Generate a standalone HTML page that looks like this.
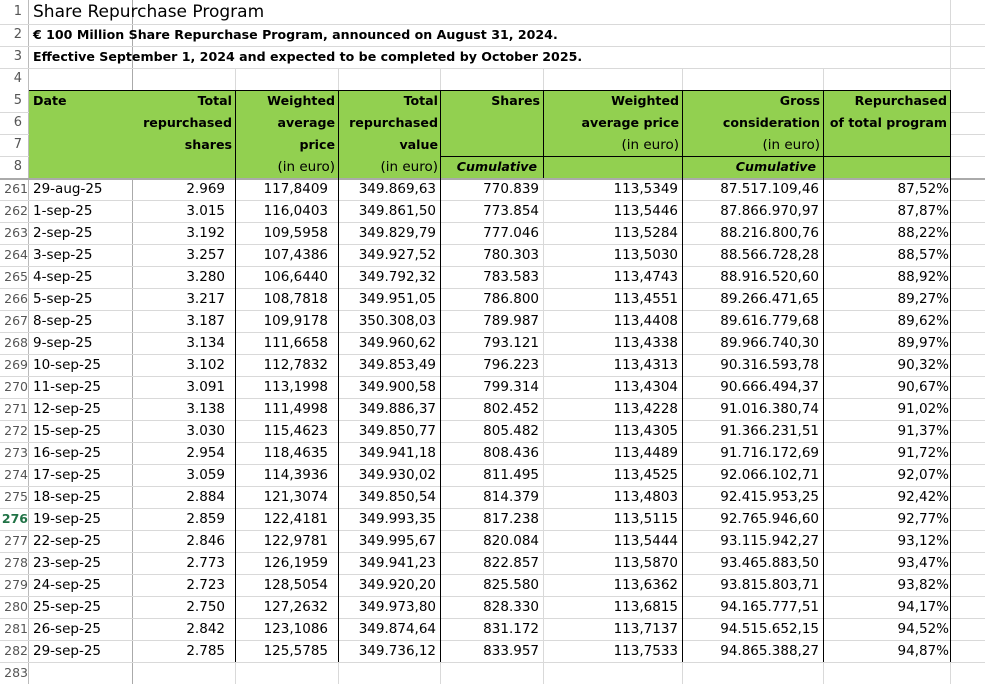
<!DOCTYPE html>
<html><head><meta charset="utf-8"><style>
*{margin:0;padding:0;box-sizing:border-box}
body{width:985px;height:684px;overflow:hidden;background:#fff;font-family:"DejaVu Sans","Liberation Sans",sans-serif;font-size:13.5px;color:#000;position:relative}
.gl{position:absolute;background:#d9d9d9}
.bl{position:absolute;background:#000}
.t{position:absolute;white-space:nowrap;line-height:22px;height:22px}
.r{text-align:right}
.rn{position:absolute;left:0;width:22px;text-align:right;color:#555;line-height:22px;font-size:13px}
.b{font-weight:bold;font-size:12.6px}
</style></head><body>
<!-- gridlines -->
<div class="gl" style="left:28px;top:0;width:1px;height:684px;background:#bbb"></div>
<div class="gl" style="left:132px;top:0;width:1px;height:684px;background:#aaa"></div>
<div class="gl" style="left:235px;top:68px;width:1px;height:616px"></div>
<div class="gl" style="left:338px;top:68px;width:1px;height:616px"></div>
<div class="gl" style="left:440px;top:68px;width:1px;height:616px"></div>
<div class="gl" style="left:543px;top:68px;width:1px;height:616px"></div>
<div class="gl" style="left:682px;top:68px;width:1px;height:616px"></div>
<div class="gl" style="left:823px;top:68px;width:1px;height:616px"></div>
<div class="gl" style="left:950px;top:0;width:1px;height:684px"></div>
<div class="gl" style="left:0;top:24px;width:985px;height:1px"></div>
<div class="gl" style="left:0;top:46px;width:985px;height:1px"></div>
<div class="gl" style="left:0;top:68px;width:985px;height:1px"></div>
<div class="gl" style="left:0;top:112px;width:985px;height:1px"></div>
<div class="gl" style="left:0;top:134px;width:985px;height:1px"></div>
<div class="gl" style="left:0;top:156px;width:985px;height:1px"></div>
<div class="gl" style="left:0;top:178px;width:985px;height:2px;background:#aaa"></div>
<div class="gl" style="left:0;top:200px;width:985px;height:1px"></div>
<div class="gl" style="left:0;top:222px;width:985px;height:1px"></div>
<div class="gl" style="left:0;top:244px;width:985px;height:1px"></div>
<div class="gl" style="left:0;top:266px;width:985px;height:1px"></div>
<div class="gl" style="left:0;top:288px;width:985px;height:1px"></div>
<div class="gl" style="left:0;top:310px;width:985px;height:1px"></div>
<div class="gl" style="left:0;top:332px;width:985px;height:1px"></div>
<div class="gl" style="left:0;top:354px;width:985px;height:1px"></div>
<div class="gl" style="left:0;top:376px;width:985px;height:1px"></div>
<div class="gl" style="left:0;top:398px;width:985px;height:1px"></div>
<div class="gl" style="left:0;top:420px;width:985px;height:1px"></div>
<div class="gl" style="left:0;top:442px;width:985px;height:1px"></div>
<div class="gl" style="left:0;top:464px;width:985px;height:1px"></div>
<div class="gl" style="left:0;top:486px;width:985px;height:1px"></div>
<div class="gl" style="left:0;top:508px;width:985px;height:1px"></div>
<div class="gl" style="left:0;top:530px;width:985px;height:1px"></div>
<div class="gl" style="left:0;top:552px;width:985px;height:1px"></div>
<div class="gl" style="left:0;top:574px;width:985px;height:1px"></div>
<div class="gl" style="left:0;top:596px;width:985px;height:1px"></div>
<div class="gl" style="left:0;top:618px;width:985px;height:1px"></div>
<div class="gl" style="left:0;top:640px;width:985px;height:1px"></div>
<div class="gl" style="left:0;top:662px;width:985px;height:1px"></div>
<!-- green header -->
<div style="position:absolute;left:29px;top:90px;width:921px;height:88px;background:#92d050"></div>
<!-- black borders -->
<div class="bl" style="left:29px;top:90px;width:922px;height:1px"></div>
<div class="bl" style="left:440px;top:156px;width:511px;height:1px"></div>
<div class="bl" style="left:235px;top:90px;width:1px;height:572px"></div>
<div class="bl" style="left:338px;top:90px;width:1px;height:572px"></div>
<div class="bl" style="left:440px;top:90px;width:1px;height:572px"></div>
<div class="bl" style="left:543px;top:90px;width:1px;height:88px"></div>
<div class="bl" style="left:682px;top:90px;width:1px;height:572px"></div>
<div class="bl" style="left:823px;top:90px;width:1px;height:572px"></div>
<div class="bl" style="left:950px;top:90px;width:1px;height:572px"></div>

<!-- row numbers -->
<div class="rn" style="top:1px">1</div>
<div class="rn" style="top:24px">2</div>
<div class="rn" style="top:46px">3</div>
<div class="rn" style="top:68px">4</div>
<div class="rn" style="top:90px">5</div>
<div class="rn" style="top:112px">6</div>
<div class="rn" style="top:134px">7</div>
<div class="rn" style="top:156px">8</div>

<div class="t" style="left:33px;top:0;font-size:17px;line-height:24px">Share Repurchase Program</div>
<div class="t b" style="left:33px;top:24px">€ 100 Million Share Repurchase Program, announced on August 31, 2024.</div>
<div class="t b" style="left:33px;top:46px">Effective September 1, 2024 and expected to be completed by October 2025.</div>

<div class="b">
<div class="t" style="left:33px;top:90px">Date</div>
<div class="t r" style="left:132px;width:100px;top:90px">Total</div>
<div class="t r" style="left:132px;width:100px;top:112px">repurchased</div>
<div class="t r" style="left:132px;width:100px;top:134px">shares</div>
<div class="t r" style="left:235px;width:100px;top:90px">Weighted</div>
<div class="t r" style="left:235px;width:100px;top:112px">average</div>
<div class="t r" style="left:235px;width:100px;top:134px">price</div>
<div class="t r" style="left:338px;width:100px;top:90px">Total</div>
<div class="t r" style="left:338px;width:100px;top:112px">repurchased</div>
<div class="t r" style="left:338px;width:100px;top:134px">value</div>
<div class="t r" style="left:440px;width:100px;top:90px">Shares</div>
<div class="t r" style="left:543px;width:136px;top:90px">Weighted</div>
<div class="t r" style="left:543px;width:136px;top:112px">average price</div>
<div class="t r" style="left:682px;width:138px;top:90px">Gross</div>
<div class="t r" style="left:682px;width:138px;top:112px">consideration</div>
<div class="t r" style="left:823px;width:124px;top:90px">Repurchased</div>
<div class="t r" style="left:823px;width:124px;top:112px">of total program</div>
<div class="t r" style="left:440px;width:97px;top:156px;font-style:italic">Cumulative</div>
<div class="t r" style="left:682px;width:134px;top:156px;font-style:italic">Cumulative</div>
</div>
<div class="t r" style="left:235px;width:100px;top:156px">(in euro)</div>
<div class="t r" style="left:338px;width:100px;top:156px">(in euro)</div>
<div class="t r" style="left:543px;width:136px;top:134px">(in euro)</div>
<div class="t r" style="left:682px;width:138px;top:134px">(in euro)</div>

<div style="position:absolute;left:0;top:178px;width:985px">
<table style="border-collapse:collapse;table-layout:fixed;font-size:13.5px" cellspacing="0">
<colgroup><col style="width:29px"><col style="width:103px"><col style="width:103px"><col style="width:103px"><col style="width:102px"><col style="width:103px"><col style="width:139px"><col style="width:141px"><col style="width:128px"></colgroup>
<tbody id="tb">
<tr><td>261</td><td>29-aug-25</td><td>2.969</td><td>117,8409</td><td>349.869,63</td><td>770.839</td><td>113,5349</td><td>87.517.109,46</td><td>87,52%</td></tr>
<tr><td>262</td><td>1-sep-25</td><td>3.015</td><td>116,0403</td><td>349.861,50</td><td>773.854</td><td>113,5446</td><td>87.866.970,97</td><td>87,87%</td></tr>
<tr><td>263</td><td>2-sep-25</td><td>3.192</td><td>109,5958</td><td>349.829,79</td><td>777.046</td><td>113,5284</td><td>88.216.800,76</td><td>88,22%</td></tr>
<tr><td>264</td><td>3-sep-25</td><td>3.257</td><td>107,4386</td><td>349.927,52</td><td>780.303</td><td>113,5030</td><td>88.566.728,28</td><td>88,57%</td></tr>
<tr><td>265</td><td>4-sep-25</td><td>3.280</td><td>106,6440</td><td>349.792,32</td><td>783.583</td><td>113,4743</td><td>88.916.520,60</td><td>88,92%</td></tr>
<tr><td>266</td><td>5-sep-25</td><td>3.217</td><td>108,7818</td><td>349.951,05</td><td>786.800</td><td>113,4551</td><td>89.266.471,65</td><td>89,27%</td></tr>
<tr><td>267</td><td>8-sep-25</td><td>3.187</td><td>109,9178</td><td>350.308,03</td><td>789.987</td><td>113,4408</td><td>89.616.779,68</td><td>89,62%</td></tr>
<tr><td>268</td><td>9-sep-25</td><td>3.134</td><td>111,6658</td><td>349.960,62</td><td>793.121</td><td>113,4338</td><td>89.966.740,30</td><td>89,97%</td></tr>
<tr><td>269</td><td>10-sep-25</td><td>3.102</td><td>112,7832</td><td>349.853,49</td><td>796.223</td><td>113,4313</td><td>90.316.593,78</td><td>90,32%</td></tr>
<tr><td>270</td><td>11-sep-25</td><td>3.091</td><td>113,1998</td><td>349.900,58</td><td>799.314</td><td>113,4304</td><td>90.666.494,37</td><td>90,67%</td></tr>
<tr><td>271</td><td>12-sep-25</td><td>3.138</td><td>111,4998</td><td>349.886,37</td><td>802.452</td><td>113,4228</td><td>91.016.380,74</td><td>91,02%</td></tr>
<tr><td>272</td><td>15-sep-25</td><td>3.030</td><td>115,4623</td><td>349.850,77</td><td>805.482</td><td>113,4305</td><td>91.366.231,51</td><td>91,37%</td></tr>
<tr><td>273</td><td>16-sep-25</td><td>2.954</td><td>118,4635</td><td>349.941,18</td><td>808.436</td><td>113,4489</td><td>91.716.172,69</td><td>91,72%</td></tr>
<tr><td>274</td><td>17-sep-25</td><td>3.059</td><td>114,3936</td><td>349.930,02</td><td>811.495</td><td>113,4525</td><td>92.066.102,71</td><td>92,07%</td></tr>
<tr><td>275</td><td>18-sep-25</td><td>2.884</td><td>121,3074</td><td>349.850,54</td><td>814.379</td><td>113,4803</td><td>92.415.953,25</td><td>92,42%</td></tr>
<tr><td style="color:#217346;font-weight:bold">276</td><td>19-sep-25</td><td>2.859</td><td>122,4181</td><td>349.993,35</td><td>817.238</td><td>113,5115</td><td>92.765.946,60</td><td>92,77%</td></tr>
<tr><td>277</td><td>22-sep-25</td><td>2.846</td><td>122,9781</td><td>349.995,67</td><td>820.084</td><td>113,5444</td><td>93.115.942,27</td><td>93,12%</td></tr>
<tr><td>278</td><td>23-sep-25</td><td>2.773</td><td>126,1959</td><td>349.941,23</td><td>822.857</td><td>113,5870</td><td>93.465.883,50</td><td>93,47%</td></tr>
<tr><td>279</td><td>24-sep-25</td><td>2.723</td><td>128,5054</td><td>349.920,20</td><td>825.580</td><td>113,6362</td><td>93.815.803,71</td><td>93,82%</td></tr>
<tr><td>280</td><td>25-sep-25</td><td>2.750</td><td>127,2632</td><td>349.973,80</td><td>828.330</td><td>113,6815</td><td>94.165.777,51</td><td>94,17%</td></tr>
<tr><td>281</td><td>26-sep-25</td><td>2.842</td><td>123,1086</td><td>349.874,64</td><td>831.172</td><td>113,7137</td><td>94.515.652,15</td><td>94,52%</td></tr>
<tr><td>282</td><td>29-sep-25</td><td>2.785</td><td>125,5785</td><td>349.736,12</td><td>833.957</td><td>113,7533</td><td>94.865.388,27</td><td>94,87%</td></tr>
<tr><td>283</td><td></td><td></td><td></td><td></td><td></td><td></td><td></td><td></td></tr>
</tbody></table>
</div>
<style>
#tb td{height:22px;line-height:22px;padding:0 4px 0 0;text-align:right;white-space:nowrap;overflow:visible}
#tb td:first-child{color:#555;padding:0 1px 0 0;font-size:12.5px}
#tb td:nth-child(2){text-align:left;padding:0 0 0 4px}
#tb td:nth-child(3),#tb td:nth-child(4){padding-right:10px}
#tb td:nth-child(9){padding-right:2px}
</style>
</body></html>
